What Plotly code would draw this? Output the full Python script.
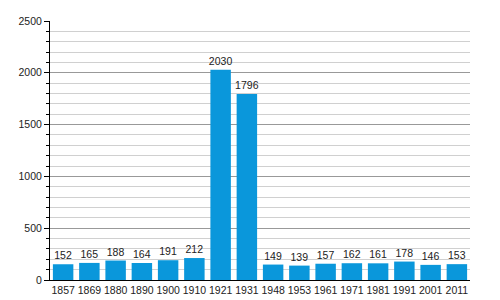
import plotly.graph_objects as go

years = ["1857", "1869", "1880", "1890", "1900", "1910", "1921", "1931",
         "1948", "1953", "1961", "1971", "1981", "1991", "2001", "2011"]
population = [152, 165, 188, 164, 191, 212, 2030, 1796,
              149, 139, 157, 162, 161, 178, 146, 153]

FONT = "Liberation Sans, Arial, sans-serif"

fig = go.Figure(go.Bar(
    x=years, y=population,
    marker=dict(color="#0a97db", line=dict(width=0)),
    text=[str(v) for v in population],
    textposition="outside",
    textfont=dict(family=FONT, size=10.5, color="#222"),
    cliponaxis=False,
))

fig.update_layout(
    width=500, height=300,
    margin=dict(l=50, r=30, t=21, b=20),
    paper_bgcolor="white", plot_bgcolor="white",
    bargap=0.22,
    showlegend=False,
    uniformtext=dict(minsize=10.5, mode="show"),
    font=dict(family=FONT, size=10.5, color="#222"),
    xaxis=dict(
        type="category",
        showline=True, linecolor="#000", linewidth=1,
        ticks="", showgrid=False,
        tickangle=0, automargin=False,
        tickfont=dict(size=10.5),
    ),
    yaxis=dict(
        range=[0, 2500], dtick=500,
        showline=True, linecolor="#000", linewidth=1,
        ticks="outside", ticklen=5, tickcolor="#000",
        showgrid=True, gridcolor="#999", gridwidth=1,
        zeroline=False, automargin=False,
        tickfont=dict(size=10.5),
        minor=dict(dtick=100, ticks="outside", ticklen=3, tickcolor="#000",
                   showgrid=True, gridcolor="#d0d0d0", gridwidth=1),
    ),
)

fig.write_html("out.html")
